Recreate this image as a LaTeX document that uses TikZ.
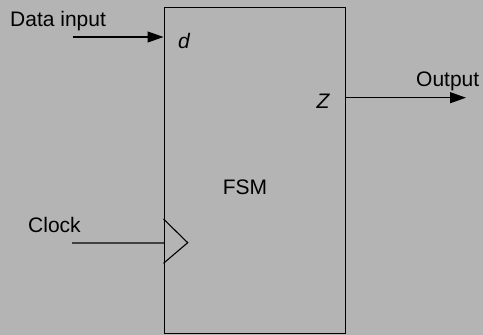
\documentclass[tikz,border=0pt]{standalone}
\usepackage{fontspec}
\setmainfont{Liberation Sans}
\usetikzlibrary{arrows.meta}
\definecolor{bg}{RGB}{180,180,180}
\begin{document}
\begin{tikzpicture}[x=1pt,y=-1pt,
  lbl/.style={font=\fontsize{21}{23}\selectfont, inner sep=0pt, anchor=base west},
  sig/.style={line width=1.1pt, -{Triangle[length=16pt,width=11pt]}},
  box/.style={draw=black, line width=1.6pt}]
\fill[bg] (0,0) rectangle (483,335);
\useasboundingbox (0,0) rectangle (483,335);
\node[box, minimum width=181pt, minimum height=326pt, anchor=north west, inner sep=0pt] (fsm) at (163.5,6.7) {};
\node[font=\fontsize{21}{23}\selectfont, inner sep=0pt] (fsmlbl) at (245,187) {FSM};
\node[lbl] (din) at (10,26.5) {Data input};
\node[lbl] (clk) at (28,232) {Clock};
\node[lbl] (out) at (416,86.5) {Output};
\node[font=\fontsize{21}{23}\selectfont\itshape, inner sep=0pt] (dlbl) at (184,41) {\textit{d}};
\node[font=\fontsize{21}{23}\selectfont\itshape, inner sep=0pt] (zlbl) at (323,101) {\textit{Z}};
\coordinate (dinstart) at (72.5,37);
\coordinate (dinend) at (163.5,37);
\coordinate (outstart) at (344.5,97.7);
\coordinate (outend) at (466,97.7);
\coordinate (clkstart) at (72.3,242.7);
\coordinate (clkend) at (163.5,242.7);
\draw[sig] (dinstart) -- (dinend);
\draw[sig] (outstart) -- (outend);
\draw[line width=1.8pt, draw=black!75] (clkstart) -- (clkend);
\draw[line width=1.1pt] (163.5,219) -- (187.7,242.7) -- (163.5,263.3);
\end{tikzpicture}
\end{document}
